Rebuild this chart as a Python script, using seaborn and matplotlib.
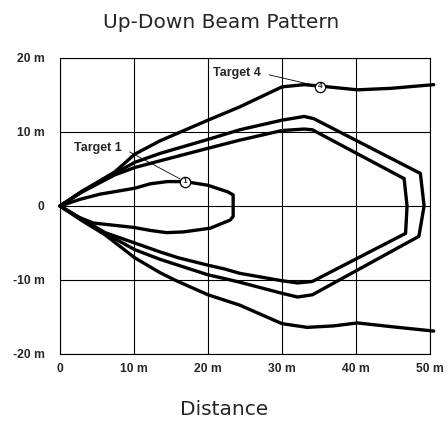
import numpy as np
import pandas as pd
import matplotlib
matplotlib.use("Agg")
import matplotlib.pyplot as plt
import seaborn as sns

# beam outlines (metres)
t1_x = [0, 2.7, 5.4, 10.1, 12.2, 14.5, 16.9, 20.0, 22.7, 23.4, 23.4, 23.0, 20.3, 16.7, 14.4, 12.2, 10.0, 4.5, 2.5, 0]
t1_y = [0, 0.9, 1.6, 2.4, 3.0, 3.3, 3.3, 2.8, 1.9, 1.5, -1.4, -1.9, -3.0, -3.5, -3.6, -3.3, -2.9, -2.3, -1.5, 0]

t2_x = [0, 3, 7.4, 10.1, 13.5, 20.0, 24.3, 30.0, 33.0, 34.1, 46.5, 46.9, 46.7,
        34.1, 32.1, 30.0, 24.3, 22.2, 20.0, 16.0, 13.5, 10.1, 6.1, 3, 0]
t2_y = [0, 1.9, 4.2, 5.2, 6.1, 7.8, 8.9, 10.2, 10.4, 10.3, 3.7, 0, -3.7,
        -10.2, -10.4, -10.1, -9.1, -8.5, -8.0, -7.0, -6.2, -5.0, -3.6, -1.8, 0]

t3_x = [0, 3, 7.4, 10.1, 13.5, 20.0, 24.3, 30.0, 33.0, 34.3, 48.7, 49.2, 48.5,
        34.1, 32.1, 30.0, 24.3, 22.2, 20.0, 13.5, 10.1, 6.1, 3, 0]
t3_y = [0, 2.0, 4.4, 5.9, 7.1, 9.0, 10.3, 11.6, 12.1, 11.8, 4.4, 0, -4.1,
        -12.0, -12.3, -11.8, -10.3, -9.8, -9.3, -7.2, -5.9, -3.7, -1.9, 0]

t4_up_x = [0, 3, 7.4, 10.1, 13.5, 20.0, 24.3, 30.0, 33.0, 35.2, 40.2, 44.7, 50.5]
t4_up_y = [0, 2.0, 4.6, 7.0, 8.8, 11.6, 13.4, 16.1, 16.4, 16.2, 15.7, 15.9, 16.4]
t4_lo_x = [0, 3, 6.1, 10.1, 13.5, 15.5, 20.0, 24.3, 30.0, 33.4, 37.0, 40.2, 44.7, 50.5]
t4_lo_y = [0, -2.0, -3.9, -7.0, -9.0, -10.0, -12.0, -13.4, -15.9, -16.4, -16.2, -15.8, -16.3, -16.9]

ticks = [-20, -10, 0, 10, 20]
xticks = [0, 10, 20, 30, 40, 50]

curves = [(t1_x, t1_y), (t2_x, t2_y), (t3_x, t3_y), (t4_up_x, t4_up_y), (t4_lo_x, t4_lo_y)]

sns.set_style("white")
plt.rcParams['font.family'] = ['DejaVu Sans']

fig = plt.figure(figsize=(4.48, 4.22), dpi=100)
ax = fig.add_axes([60/448, 1-354/422, 370/448, 296/422])

for cx, cy in curves:
    df = pd.DataFrame({"x": cx, "y": cy})
    sns.lineplot(data=df, x="x", y="y", sort=False, estimator=None, color="black",
                 lw=2.4, ax=ax, clip_on=False, solid_joinstyle="round", solid_capstyle="round")

ax.set_xlim(0, 50)
ax.set_ylim(-20, 20)
ax.set_xticks(xticks)
ax.set_yticks(ticks)
ax.set_xticklabels(["0"] + [f"{v} m" for v in xticks[1:]])
ax.set_yticklabels([f"{v} m" if v != 0 else "0" for v in ticks])
for lab in ax.get_xticklabels() + ax.get_yticklabels():
    lab.set_family("Liberation Sans")
    lab.set_fontweight("bold")
    lab.set_fontsize(8.7)
ax.tick_params(axis="both", length=0)
ax.tick_params(axis="y", pad=11)
ax.tick_params(axis="x", pad=6.5)
ax.grid(True, color="black", lw=0.8)
for s in ax.spines.values():
    s.set_color("black")
    s.set_linewidth(0.8)

# target markers
ax.scatter([16.9, 35.2], [3.3, 16.1], s=55, facecolor="white", edgecolor="black",
           lw=0.9, zorder=5)
ax.text(16.9, 3.3, "1", ha="center", va="center", fontsize=6, fontweight="bold",
        family="Liberation Sans", zorder=6)
ax.text(35.2, 16.1, "4", ha="center", va="center", fontsize=6, fontweight="bold",
        family="Liberation Sans", zorder=6)

ax.annotate("Target 1", xy=(16.9, 3.3), xytext=(8.3, 7.9), ha="right", va="center",
            fontsize=9, fontweight="bold", family="Liberation Sans",
            arrowprops=dict(arrowstyle="-", lw=0.6, color="black", relpos=(1, 0.5),
                            shrinkA=4, shrinkB=4))
ax.annotate("Target 4", xy=(35.2, 16.1), xytext=(27.1, 18.0), ha="right", va="center",
            fontsize=9, fontweight="bold", family="Liberation Sans",
            arrowprops=dict(arrowstyle="-", lw=0.6, color="black", relpos=(1, 0.5),
                            shrinkA=4, shrinkB=4))

ax.set_xlabel("")
ax.set_ylabel("")
fig.text(221/448, 1-28.5/422, "Up-Down Beam Pattern", fontsize=14.5,
         ha="center", va="baseline")
fig.text(224.5/448, 1-415/422, "Distance", fontsize=14.5, ha="center", va="baseline")

fig.savefig("out.png", dpi=100)
